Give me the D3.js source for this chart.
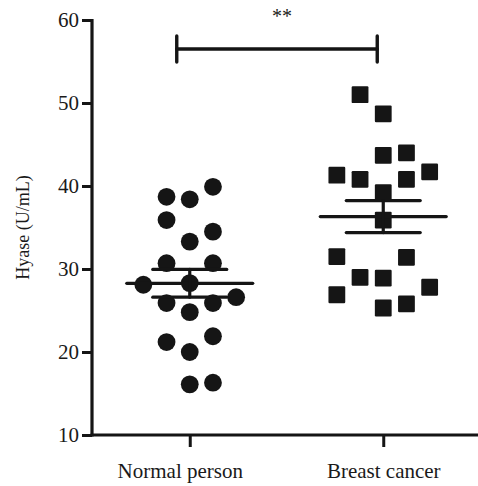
<!DOCTYPE html>
<html>
<head>
<meta charset="utf-8">
<script src="https://cdn.jsdelivr.net/npm/d3@7"></script>
<style>
  body { margin: 0; background: #fff; }
  text { font-family: "Liberation Serif", "Times New Roman", serif; fill: #1a1a1a; }
</style>
</head>
<body>
<svg id="chart" width="478" height="486"></svg>
<script>

// values (U/mL)
let categories = ["Normal person", "Breast cancer"];
let normalValues = [38.4, 33.3, 28.3, 24.8, 20.0, 16.1,
                    39.9, 38.7, 34.5, 35.9, 30.7, 30.7, 25.9, 25.9, 26.6, 28.1, 21.9, 21.2, 16.3];
let cancerValues = [48.7, 43.7, 39.2, 35.9, 28.9, 25.3,
                    44.0, 40.8, 40.8, 51.0, 41.7, 41.3, 25.8, 29.0, 27.8, 26.9, 31.4, 31.5];
let yTicks = [10, 20, 30, 40, 50, 60];
let yLabel = "Hyase (U/mL)";
let signif = "**";

let width = 478,
    height = 486;

let svg = d3.select("#chart");
let ink = "#151515";

let x = d3.scalePoint().domain(categories).range([93, 480]).padding(0.5);
let y = d3.scaleLinear().domain([10, 60]).range([435, 20]);

// simple beeswarm: push a point sideways (in whole steps) while it hits one already placed
function swarm(values, step, minDist) {
    let placed = [];
    let left = 0, right = 0;
    return values.map((v) => {
        let py = y(v);
        let free = (k) => placed.every(p => p.k != k || Math.abs(p.y - py) >= minDist);
        let k = 0;
        if (!free(0)) {
            for (let d = 1; d < 10; d++) {
                let r = free(d), l = free(-d);
                if (r && l) { k = left < right ? -d : d; break; }
                if (r) { k = d; break; }
                if (l) { k = -d; break; }
            }
        }
        if (k < 0) left++;
        if (k > 0) right++;
        placed.push({y: py, k: k});
        return k * step;
    });
}

let groups = [
    {name: categories[0], values: normalValues, shape: "circle"},
    {name: categories[1], values: cancerValues, shape: "square"}
];

groups.forEach((g) => {
    let offs = swarm(g.values, 23.2, 22);
    let cx = x(g.name);
    let pts = g.values.map((v, i) => ({x: cx + offs[i], y: y(v)}));
    let layer = svg.append("g");
    if (g.shape == "circle") {
        layer.selectAll("circle").data(pts).join("circle")
            .attr("cx", d => d.x).attr("cy", d => d.y).attr("r", 8.9)
            .attr("fill", ink);
    } else {
        layer.selectAll("rect").data(pts).join("rect")
            .attr("x", d => d.x - 8.4).attr("y", d => d.y - 8.4)
            .attr("width", 16.8).attr("height", 16.8).attr("rx", 1.2)
            .attr("fill", ink);
    }

    // mean with SEM
    let m = d3.mean(g.values);
    let sem = d3.deviation(g.values) / Math.sqrt(g.values.length);
    let bars = svg.append("g").attr("stroke", ink).attr("stroke-linecap", "round");
    bars.append("line").attr("x1", cx - 63).attr("x2", cx + 63)
        .attr("y1", y(m)).attr("y2", y(m)).attr("stroke-width", 3.2);
    [m - sem, m + sem].forEach((v) => {
        bars.append("line").attr("x1", cx - 37).attr("x2", cx + 37)
            .attr("y1", y(v)).attr("y2", y(v)).attr("stroke-width", 3.2);
    });
    bars.append("line").attr("x1", cx).attr("x2", cx)
        .attr("y1", y(m - sem)).attr("y2", y(m + sem)).attr("stroke-width", 3.2);
});

// axes
let yAxis = svg.append("g")
    .attr("transform", "translate(92,0)")
    .call(d3.axisLeft(y).tickValues(yTicks).tickSize(10).tickPadding(3));
let xAxis = svg.append("g")
    .attr("transform", "translate(0,435)")
    .call(d3.axisBottom(x).tickSize(12).tickPadding(16));

[yAxis, xAxis].forEach((a) => {
    a.select(".domain").remove();
    a.selectAll("line").attr("stroke", ink).attr("stroke-width", 3);
    a.selectAll("text").style("font-size", "21px").attr("fill", ink);
});
// the first label sits a little left of its tick in the original
xAxis.selectAll(".tick text").attr("x", (d, i) => i == 0 ? -10 : 0);

svg.append("line").attr("x1", 92).attr("x2", 92).attr("y1", y(60) - 1).attr("y2", y(10) + 1.5)
    .attr("stroke", ink).attr("stroke-width", 3.2);
svg.append("line").attr("x1", 90.5).attr("x2", width).attr("y1", y(10)).attr("y2", y(10))
    .attr("stroke", ink).attr("stroke-width", 3.2);

svg.append("text")
    .attr("transform", "translate(29," + ((y(10) + y(60)) / 2) + ") rotate(-90)")
    .attr("text-anchor", "middle")
    .style("font-size", "18px")
    .text(yLabel);

// significance bracket
let bx1 = x(categories[0]) - 13, bx2 = x(categories[1]) - 6, by = 49;
let br = svg.append("g").attr("stroke", ink).attr("stroke-width", 3.4).attr("stroke-linecap", "round");
br.append("line").attr("x1", bx1).attr("x2", bx2).attr("y1", by).attr("y2", by);
br.append("line").attr("x1", bx1).attr("x2", bx1).attr("y1", by - 13).attr("y2", by + 13);
br.append("line").attr("x1", bx2).attr("x2", bx2).attr("y1", by - 13).attr("y2", by + 13);

svg.append("text")
    .attr("x", (bx1 + bx2) / 2 + 5).attr("y", 23)
    .attr("text-anchor", "middle")
    .style("font-size", "20px")
    .text(signif);

</script>
</body>
</html>
